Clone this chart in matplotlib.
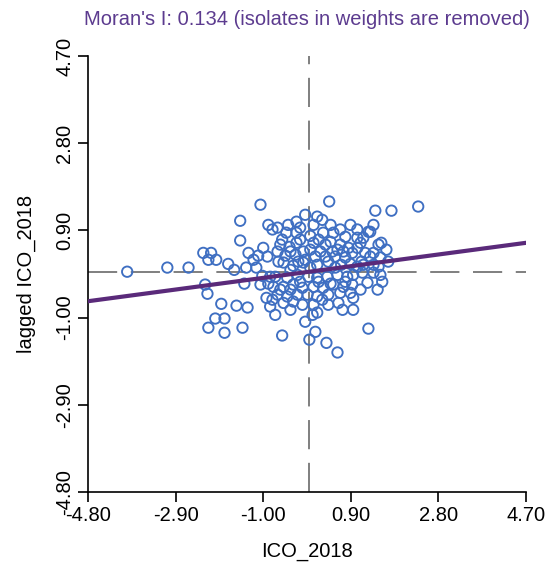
import numpy as np
import matplotlib.pyplot as plt

plt.rcParams['font.family'] = ['Liberation Sans', 'DejaVu Sans']

# standardized ICO_2018 and its spatial lag
ico = np.array([
    -3.95, -3.08, -2.62, -2.30, -2.13, -2.19, -2.02, -1.76, -1.63, -1.06,
    -1.50, -1.50, -1.32, -1.21, -1.00, -1.11, -0.91, -0.89, -0.80, -2.26,
    -2.21, -1.41, -0.89, -1.91, -1.58, -1.34, -0.93, -0.85, -0.74, -2.04,
    -1.84, -2.19, -1.84, -1.45, -0.59, -0.69, -0.80, 0.43, -0.09, 0.17,
    0.28, 0.09, 1.43, 1.78, 2.36, 0.89, 1.39, 1.32, -0.69, -0.50,
    -0.28, 0.02, 0.30, 0.52, 0.78, 1.04, 1.17, 1.28, 1.50, 1.56,
    -0.63, -0.43, -0.28, -0.13, 0.09, 0.35, 0.61, 0.85, 1.04, 0.93,
    1.21, 1.32, 1.54, -0.52, -0.30, -0.09, 0.13, 0.35, 0.56, 0.78,
    -0.56, -0.35, -0.13, 0.17, 0.41, 0.69, 1.04, 1.17, 1.39, 1.50,
    -0.74, -0.48, -0.26, -0.02, 0.17, 0.39, 0.61, 0.82, 0.95, 1.15,
    1.39, 1.54, 1.58, -0.78, -0.56, -0.35, -0.15, 0.09, 0.30, 0.52,
    0.74, 0.93, 1.26, 1.48, -0.69, -0.48, -0.26, -0.04, 0.17, 0.41,
    0.67, 0.89, 0.95, 0.95, -0.56, -0.35, -0.15, 0.09, 0.41, 0.63,
    0.07, 0.17, 0.13, 0.00, 0.37, 0.61, 1.28, -0.59, -0.20, 0.20,
    0.46, 0.67, 1.11, -0.41, 0.02, 0.24, 0.50, 0.74, -0.67, -0.24,
    0.02, 0.56, 0.89, 1.71, 1.67, -0.20, 0.46, 0.67, 1.04, -0.46,
    -0.28, -0.63, -0.41, 0.20, 0.78, 1.11, -0.85, -1.02, -0.41, 0.28,
    0.72, -0.09, -1.06, -1.15, -1.37, -0.20, 0.46, 1.13, 1.39, -0.41,
])
lagged = np.array([
    0.00, 0.09, 0.09, 0.41, 0.41, 0.26, 0.26, 0.17, 0.04, 1.46,
    1.11, 0.68, 0.41, 0.26, 0.52, 0.35, 0.33, 1.02, 0.92, -0.28,
    -0.48, -0.26, -0.26, -0.70, -0.74, -0.78, -0.57, -0.76, -0.94, -1.02,
    -1.02, -1.22, -1.33, -1.22, -1.39, 0.44, -0.61, 1.53, 1.24, 1.20,
    1.13, 1.02, 1.33, 1.33, 1.42, 1.02, 1.02, 0.87, 0.96, 0.85,
    0.85, 0.78, 0.85, 0.85, 0.76, 0.74, 0.74, 0.87, 0.59, 0.63,
    0.59, 0.54, 0.63, 0.44, 0.63, 0.59, 0.48, 0.52, 0.52, 0.41,
    0.41, 0.33, 0.31, 0.35, 0.37, 0.26, 0.33, 0.33, 0.33, 0.31,
    0.20, 0.13, 0.20, 0.15, 0.22, 0.15, 0.11, 0.15, 0.15, 0.11,
    -0.11, -0.13, -0.07, -0.11, -0.13, -0.11, -0.07, -0.11, -0.07, -0.02,
    -0.02, -0.07, -0.22, -0.33, -0.33, -0.28, -0.35, -0.33, -0.35, -0.28,
    -0.33, -0.28, -0.24, -0.39, -0.50, -0.54, -0.50, -0.50, -0.54, -0.50,
    -0.46, -0.46, -0.57, -0.83, -0.68, -0.65, -0.72, -0.72, -0.72, -0.68,
    -0.94, -0.89, -1.31, -1.48, -1.55, -1.76, -1.24, 0.70, 0.70, 0.70,
    0.65, 0.59, 0.63, 0.44, 0.48, 0.44, 0.44, 0.44, 0.22, 0.22,
    0.09, 0.09, 0.17, 0.22, 0.48, 0.96, 1.02, 0.92, 0.92, 1.02,
    1.09, -0.39, -0.39, -0.22, -0.22, -0.39, -0.11, -0.09, -0.83, -0.61,
    -0.83, -1.09, -0.28, 0.09, 0.09, -0.22, -0.26, 0.22, 0.41, 0.04,
])

morans_i = 0.134
ticks = [-4.80, -2.90, -1.00, 0.90, 2.80, 4.70]
lo, hi = -4.80, 4.70

fig = plt.figure(figsize=(5.49, 5.69), dpi=100)
ax = fig.add_axes([0.1603, 0.1353, 0.798, 0.7663])

# quadrant lines through the means
ax.axvline(0, color='#7f7f7f', lw=1.4, dashes=(15, 7), zorder=1)
ax.axhline(0, color='#7f7f7f', lw=1.4, dashes=(15, 7), zorder=1)

ax.scatter(ico, lagged, s=56, facecolors='none', edgecolors='#3f6fc2',
           linewidths=1.35, zorder=2)

xs = np.array([lo, hi])
ax.plot(xs, morans_i * xs, color='#5a2a7a', lw=3, zorder=3)

ax.set_xlim(lo, hi)
ax.set_ylim(lo, hi)
ax.set_xticks(ticks)
ax.set_yticks(ticks)
ax.set_xticklabels(['%.2f' % t for t in ticks])
ax.set_yticklabels(['%.2f' % t for t in ticks], rotation=90, va='center')

for side in ['top', 'right']:
    ax.spines[side].set_visible(False)
for side in ['left', 'bottom']:
    ax.spines[side].set_linewidth(1.2)
ax.tick_params(direction='out', length=7, width=1.2, labelsize=14.5,
               colors='black', pad=3)

ax.set_xlabel('ICO_2018', fontsize=14.5, labelpad=12)
ax.set_ylabel('lagged ICO_2018', fontsize=14.5, labelpad=14)
ax.set_title("Moran's I: %.3f (isolates in weights are removed)" % morans_i,
             fontsize=14.5, color='#5c3b8f', pad=22)

fig.savefig('out.png', dpi=100)
